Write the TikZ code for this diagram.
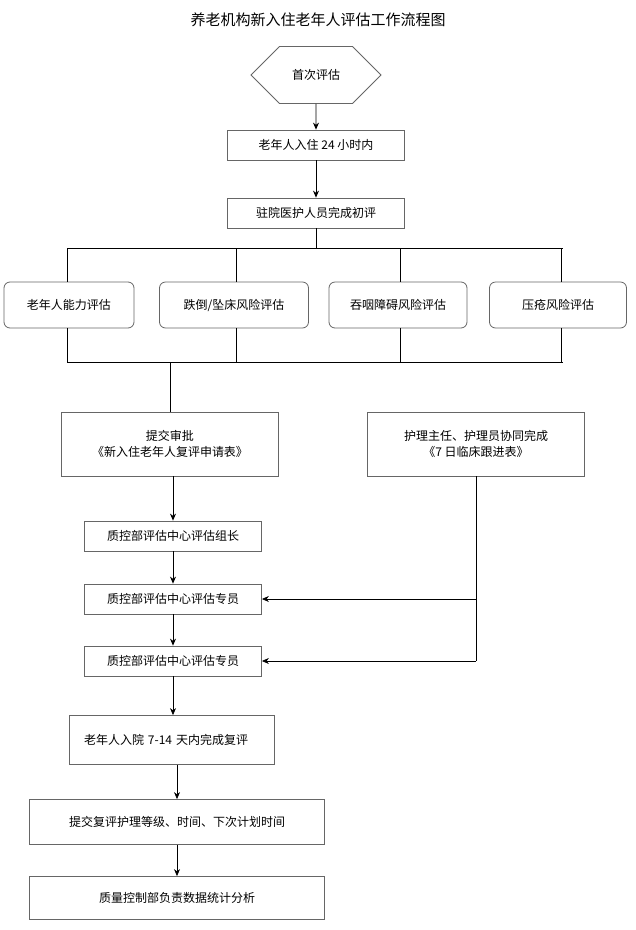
\documentclass[tikz,border=0pt]{standalone}
\usepackage{fontspec}
\setmainfont{Noto Sans CJK SC}
\usetikzlibrary{shapes.geometric,shapes.misc,arrows.meta}
\begin{document}
\begin{tikzpicture}[x=1pt,y=-1pt,
  box/.style={draw=black!60,line width=0.8pt,inner sep=0pt,font=\fontsize{12}{16}\selectfont,align=center},
  rbox/.style={box,rounded corners=6pt},
  ln/.style={line width=0.8pt},
  ar/.style={ln,-{Stealth[length=7pt,width=6pt]}}]
\useasboundingbox[fill=white] (0,0) rectangle (636,930);
\node[font=\fontsize{15}{18}\selectfont] (title) at (318,20) {养老机构新入住老年人评估工作流程图};
\node[box,minimum width=130pt,minimum height=46pt,chamfered rectangle,chamfered rectangle xsep=15pt,chamfered rectangle ysep=23pt,chamfered rectangle corners={north west,south west,north east,south east}] (h) at (316,75) {首次评估};
\node[box,minimum width=177pt,minimum height=30pt] (b1) at (316,145) {老年人入住 24 小时内};
\node[box,minimum width=177pt,minimum height=30pt] (b2) at (316,213) {驻院医护人员完成初评};
\node[rbox,minimum width=130pt,minimum height=46pt] (r1) at (69,305) {老年人能力评估};
\node[rbox,minimum width=149pt,minimum height=46pt] (r2) at (234,305) {跌倒/坠床风险评估};
\node[rbox,minimum width=138pt,minimum height=46pt] (r3) at (398,305) {吞咽障碍风险评估};
\node[rbox,minimum width=137pt,minimum height=46pt] (r4) at (558,305) {压疮风险评估};
\coordinate (t1) at (67,248); \coordinate (t4) at (563,248);
\coordinate (u1) at (67,362); \coordinate (u4) at (563,362);
\coordinate (tc) at (316,248); \coordinate (uc) at (170,362);
\node[box,minimum width=217pt,minimum height=64pt] (s) at (170,444) {提交审批\\《新入住老年人复评申请表》};
\node[box,minimum width=217pt,minimum height=64pt] (n) at (476,444) {护理主任、护理员协同完成\\《7 日临床跟进表》};
\node[box,minimum width=177pt,minimum height=30pt] (q1) at (173,536) {质控部评估中心评估组长};
\node[box,minimum width=177pt,minimum height=30pt] (q2) at (173,599) {质控部评估中心评估专员};
\node[box,minimum width=177pt,minimum height=30pt] (q3) at (173,661) {质控部评估中心评估专员};
\node[box,minimum width=205pt,minimum height=49pt,text width=176pt,align=left] (q4) at (172,740) {老年人入院 7-14 天内完成复评};
\node[box,minimum width=295pt,minimum height=45pt] (q5) at (177,822) {提交复评护理等级、时间、下次计划时间};
\node[box,minimum width=295pt,minimum height=43pt] (q6) at (177,898) {质量控制部负责数据统计分析};
\draw[ar] (h) -- (b1);
\draw[ar] (b1) -- (b2);
\draw[ln] (b2.south) -- (tc);
\draw[ln] (t1) -- (t4);
\draw[ln] (u1) -- (u4);
\foreach \r/\x in {r1/67,r2/236,r3/400,r4/561}{
  \draw[ln] (\x,248) -- (\r.north -| \x,0);
  \draw[ln] (\r.south -| \x,0) -- (\x,362);
}
\draw[ln] (uc) -- (s.north -| uc);
\draw[ar] (s.south -| q1) -- (q1);
\draw[ar] (q1) -- (q2);
\draw[ar] (q2) -- (q3);
\draw[ar] (q3) -- (q3.south |- q4.north);
\draw[ar] (q4.south -| q5) -- (q5);
\draw[ar] (q5) -- (q6);
\coordinate (nb) at (476,661);
\draw[ln] (n.south) -- (nb);
\draw[ar] (nb) -- (q3.east);
\draw[ar] (476,599) -- (q2.east);
\end{tikzpicture}
\end{document}
